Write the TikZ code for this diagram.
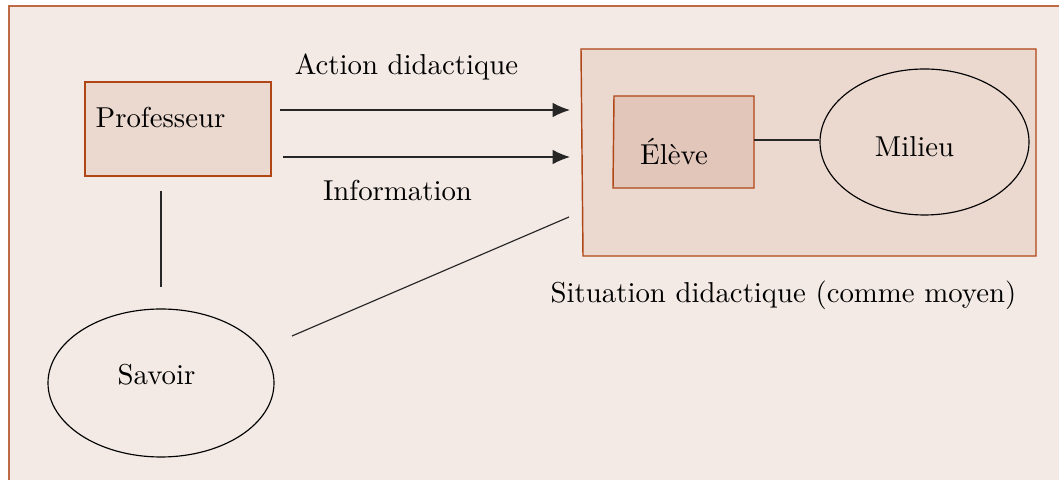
\documentclass[tikz,border=0pt]{standalone}
\usetikzlibrary{shapes.geometric,arrows.meta}
\definecolor{bgc}{HTML}{F3EAE5}
\definecolor{brd}{HTML}{B04515}
\definecolor{frm}{HTML}{BE6A45}
\definecolor{boxc}{HTML}{EBD9CF}
\definecolor{elc}{HTML}{E3C6BA}
\tikzset{
  lbl/.style={anchor=base,inner sep=0pt,text=black},
  conn/.style={draw=black!85,line width=0.4pt},
  arr/.style={conn,-{Latex[length=6pt,width=5pt]}},
  oval/.style={ellipse,draw=black,line width=0.4pt,inner sep=0pt},
}
\begin{document}
\begin{tikzpicture}[x=0.3472pt,y=-0.3472pt]
\useasboundingbox (0,0) rectangle (1059,480);
% outer frame
\path[fill=bgc,draw=frm,line width=0.5pt] (9,6) rectangle (1075,495);
% Professeur box
\node[draw=brd,fill=boxc,line width=0.5pt,minimum width=186*0.3472pt,minimum height=94*0.3472pt,inner sep=0pt] (prof) at (178,129) {};
\node[lbl] (proft) at (160.5,128) {Professeur};
% Situation box (slightly skewed left edge)
\path[draw=brd,fill=boxc,line width=0.5pt] (581,49) -- (1036,49) -- (1036,256) -- (583,256) -- cycle;
% Eleve box
\path[draw=brd,fill=elc,line width=0.5pt] (614,96) -- (754,96) -- (754,188) -- (613,188) -- cycle;
\coordinate (eleveE) at (754,140);
\node[lbl] (elevet) at (674,165) {Élève};
% Milieu
\node[oval,minimum width=209*0.3472pt,minimum height=146*0.3472pt] (milieu) at (924.5,142) {};
\node[lbl] (milieut) at (914.5,157) {Milieu};
\draw[conn] (eleveE) -- (eleveE -| milieu.west);
% Savoir
\node[oval,minimum width=226*0.3472pt,minimum height=148*0.3472pt] (savoir) at (161,383) {};
\node[lbl] (savoirt) at (156.5,385) {Savoir};
% connectors
\coordinate (a1s) at (280,110);
\coordinate (a1e) at (570,110);
\coordinate (a2s) at (283,157);
\coordinate (a2e) at (570,157);
\draw[arr] (a1s) -- (a1e);
\draw[arr] (a2s) -- (a2e);
\coordinate (vs) at (161,191);
\coordinate (ve) at (161,287);
\draw[conn] (vs) -- (ve);
\coordinate (ds) at (292,336);
\coordinate (de) at (569,217);
\draw[conn] (ds) -- (de);
% labels
\node[lbl] (action) at (406.5,75) {Action didactique};
\node[lbl] (info) at (397.5,201) {Information};
\node[lbl] (situ) at (783.5,303) {Situation didactique (comme moyen)};
\end{tikzpicture}
\end{document}
